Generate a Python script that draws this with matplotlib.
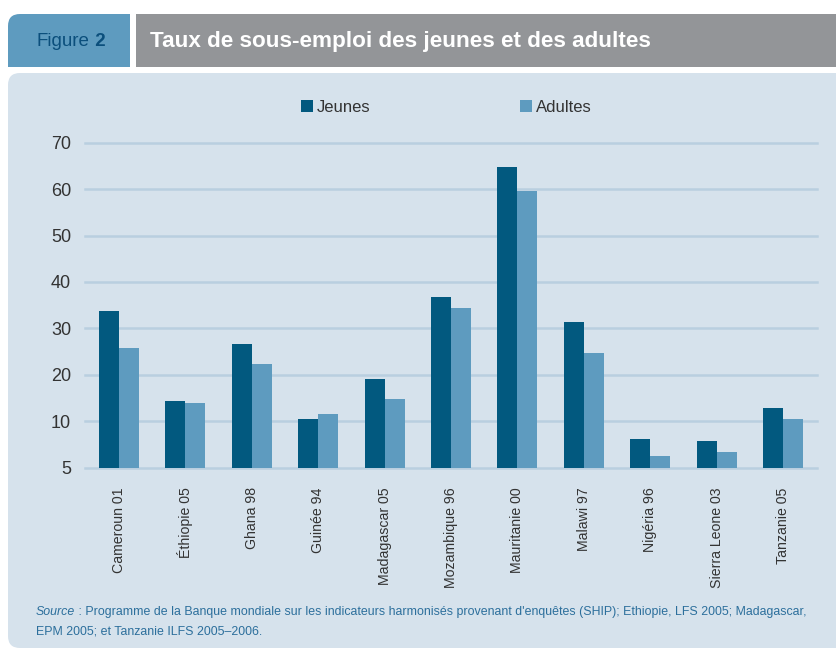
import numpy as np
import matplotlib
matplotlib.use("Agg")
import matplotlib.pyplot as plt
from matplotlib.patches import FancyBboxPatch, Rectangle

# data
pays = ["Cameroun 01", "Éthiopie 05", "Ghana 98", "Guinée 94", "Madagascar 05",
        "Mozambique 96", "Mauritanie 00", "Malawi 97", "Nigéria 96",
        "Sierra Leone 03", "Tanzanie 05"]
jeunes = [33.8, 14.4, 26.7, 10.5, 19.1, 36.8, 64.8, 31.4, 6.2, 5.7, 12.9]
adultes = [25.8, 13.9, 22.3, 11.6, 14.8, 34.4, 59.6, 24.7, 2.5, 3.4, 10.5]
yticks = [0, 10, 20, 30, 40, 50, 60, 70]
ylabels = ["5", "10", "20", "30", "40", "50", "60", "70"]

DARK, LIGHT = "#02597f", "#5e9bbf"
PANEL, GRID, HEAD = "#d6e2ec", "#b9cfe0", "#939598"
TXT = "#333333"
SRC = "#2c6f9c"
plt.rcParams["font.family"] = ["Liberation Sans", "DejaVu Sans"]

W, H = 836, 652
fig = plt.figure(figsize=(W / 100, H / 100), dpi=100)
fig.patch.set_facecolor("white")

# background / header in pixel coords
bg = fig.add_axes([0, 0, 1, 1])
bg.set_xlim(0, W); bg.set_ylim(H, 0); bg.axis("off")
bg.add_patch(FancyBboxPatch((8, 73), W + 40, H - 77, boxstyle="round,pad=0,rounding_size=12",
                            fc=PANEL, ec="none"))
bg.add_patch(FancyBboxPatch((8, 14), 122, 53, boxstyle="round,pad=0,rounding_size=12",
                            fc=LIGHT, ec="none"))
bg.add_patch(Rectangle((8, 40), 122, 27, fc=LIGHT, ec="none"))
bg.add_patch(Rectangle((100, 14), 30, 53, fc=LIGHT, ec="none"))
bg.add_patch(Rectangle((136, 14), W - 136, 53, fc=HEAD, ec="none"))
f = bg.text(37, 42, "Figure", color="#0b4f7c", fontsize=13.5, va="center", ha="left")
bg.annotate(" 2", xy=(1, 0.5), xycoords=f, color="#0b4f7c", fontsize=13.5, fontweight="bold",
            va="center", ha="left")
bg.text(150, 41, "Taux de sous-emploi des jeunes et des adultes", color="white",
        fontsize=16.2, fontweight="bold", va="center", ha="left")

# legend
bg.add_patch(Rectangle((301, 100), 12, 12, fc=DARK, ec="none"))
bg.text(317, 107, "Jeunes", color=TXT, fontsize=12, va="center")
bg.add_patch(Rectangle((520, 100), 12, 12, fc=LIGHT, ec="none"))
bg.text(536, 107, "Adultes", color=TXT, fontsize=12, va="center")

# source
s = bg.text(36, 612, "Source", color=SRC, fontsize=8.9, style="italic", va="center")
bg.annotate(" : Programme de la Banque mondiale sur les indicateurs harmonisés provenant d'enquêtes (SHIP); "
            "Ethiopie, LFS 2005; Madagascar,", xy=(1, 0.5), xycoords=s, color=SRC, fontsize=8.9,
            va="center", ha="left")
bg.text(36, 632, "EPM 2005; et Tanzanie ILFS 2005–2006.", color=SRC, fontsize=8.9, va="center")

# chart
ax = fig.add_axes([85 / W, (H - 467.7) / H, (817 - 85) / W, (467.7 - 142.7) / H])
ax.set_facecolor("none")
x = np.arange(len(pays))
bw = 0.30
ax.bar(x - bw / 2, jeunes, bw, color=DARK, zorder=3)
ax.bar(x + bw / 2, adultes, bw, color=LIGHT, zorder=3)
ax.set_xlim(-0.51, len(pays) - 0.49)
ax.set_ylim(0, 70)
ax.set_yticks(yticks, ylabels, fontsize=13)
ax.set_xticks(x, pays, rotation=90, fontsize=10.2)
ax.tick_params(length=0, colors=TXT)
ax.tick_params(axis="y", pad=10)
ax.tick_params(axis="x", pad=14)
ax.grid(axis="y", color=GRID, lw=1.8)
for gl in ax.get_ygridlines():
    gl.set_clip_on(False)
ax.set_axisbelow(True)
for sp in ax.spines.values():
    sp.set_visible(False)

fig.savefig("out.png", dpi=100)
